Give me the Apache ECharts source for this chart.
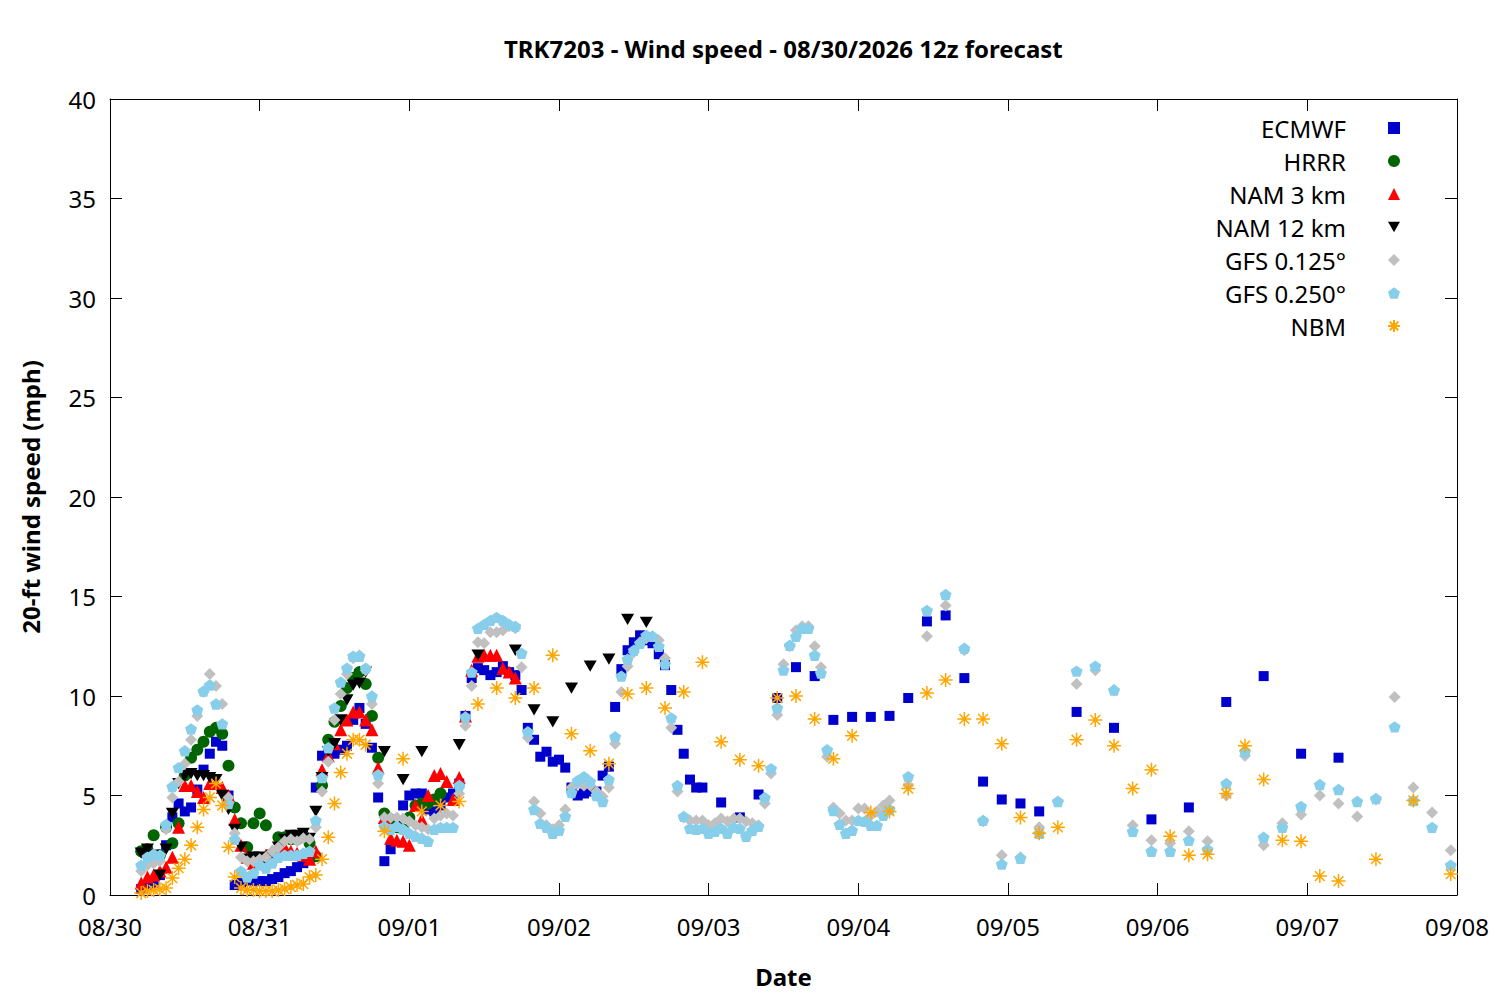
<!DOCTYPE html>
<html>
<head>
<meta charset="utf-8">
<title>TRK7203 - Wind speed</title>
<script src="https://cdn.jsdelivr.net/npm/echarts@6/dist/echarts.min.js"></script>
<style>
  html, body { margin: 0; padding: 0; background: #fff; }
  #main { width: 1500px; height: 1000px; }
</style>
</head>
<body>
<div id="main"></div>
<script>
// x = hours since 08/30 00:00 local, y = 20-ft wind speed (mph)
const dateLabels = ['08/30', '08/31', '09/01', '09/02', '09/03', '09/04', '09/05', '09/06', '09/07', '09/08'];

const ecmwf = [[5,0.3],[6,0.5],[7,0.6],[8,1.0],[9,2.5],[10,3.9],[11,4.6],[12,4.2],[13,4.4],[14,5.3],[15,6.3],[16,7.1],[17,7.7],[18,7.5],[19,5.0],[20,0.5],[21,0.6],[22,0.7],[23,0.7],[24,0.7],[25,0.7],[26,0.8],[27,0.9],[28,1.1],[29,1.2],[30,1.4],[31,1.6],[32,1.8],[33,5.4],[34,7.0],[35,7.1],[36,7.1],[37,7.3],[38,7.5],[39,8.8],[40,9.4],[41,8.6],[42,7.4],[43,4.9],[44,1.7],[45,2.3],[46,3.5],[47,4.5],[48,5.0],[49,5.1],[50,5.1],[51,4.3],[52,4.2],[53,4.5],[54,4.9],[55,5.1],[56,5.6],[57,9.0],[58,10.9],[59,11.4],[60,11.3],[61,11.05],[62,11.2],[63,11.5],[64,11.2],[65,11.05],[66,10.3],[67,8.4],[68,7.8],[69,6.95],[70,7.2],[71,6.7],[72,6.8],[73,6.4],[74,5.4],[75,5.0],[76,5.1],[77,5.2],[78,5.2],[79,6.0],[80,6.45],[81,9.45],[82,11.35],[83,12.3],[84,12.7],[85,13.05],[86,12.8],[87,12.65],[88,12.1],[89,11.55],[90,10.3],[91,8.3],[92,7.1],[93,5.8],[94,5.4],[95,5.4],[98,4.65],[101,3.9],[104,5.05],[107,9.9],[110,11.45],[113,11.0],[116,8.8],[119,8.95],[122,8.95],[125,9.0],[128,9.9],[131,13.75],[134,14.05],[137,10.9],[140,5.7],[143,4.8],[146,4.6],[149,4.2],[155,9.2],[161,8.4],[167,3.8],[173,4.4],[179,9.7],[185,11.0],[191,7.1],[197,6.9]];

const hrrr = [[5,2.2],[6,2.3],[7,3.0],[8,2.0],[9,3.4],[10,2.6],[11,3.6],[12,6.0],[13,6.9],[14,7.3],[15,7.7],[16,8.2],[17,8.4],[18,8.1],[19,6.5],[20,4.4],[21,3.6],[22,2.4],[23,3.6],[24,4.1],[25,3.5],[26,2.0],[27,2.9],[28,2.9],[29,2.8],[30,2.8],[31,3.0],[32,2.6],[33,1.95],[34,5.5],[35,7.8],[36,8.7],[37,9.5],[38,10.4],[39,10.9],[40,11.2],[41,10.6],[42,9.0],[43,6.9],[44,4.1],[45,3.8],[46,3.4],[47,3.3],[48,3.9],[49,4.5],[50,4.6],[51,4.6],[52,4.8],[53,5.1]];

const nam3 = [[5,0.6],[6,0.9],[7,1.0],[8,1.2],[9,1.4],[10,1.9],[11,3.4],[12,5.5],[13,5.5],[14,5.2],[15,4.9],[16,5.6],[17,5.6],[18,5.4],[19,5.0],[20,3.8],[21,2.5],[22,1.9],[23,1.6],[24,1.7],[25,2.0],[26,2.2],[27,2.3],[28,2.4],[29,2.2],[30,2.1],[31,2.0],[32,1.8],[33,2.2],[34,6.3],[35,7.0],[36,7.6],[37,8.3],[38,8.8],[39,9.2],[40,9.2],[41,8.8],[42,8.3],[43,6.4],[44,3.9],[45,2.85],[46,2.75],[47,2.7],[48,2.5],[49,4.5],[50,3.8],[51,5.0],[52,6.0],[53,6.1],[54,5.7],[55,4.8],[56,5.9],[57,9.0],[58,11.3],[59,12.0],[60,12.05],[61,12.05],[62,12.05],[63,11.4],[64,11.2],[65,10.9]];

const nam12 = [[5,2.1],[6,2.3],[7,2.0],[8,1.0],[9,2.3],[10,4.1],[11,5.6],[12,6.0],[13,6.1],[14,6.0],[15,6.0],[16,5.9],[17,5.8],[18,5.0],[19,4.3],[20,3.3],[21,2.4],[22,1.8],[23,1.9],[24,1.9],[25,1.5],[26,2.0],[27,2.4],[28,2.8],[29,3.0],[30,3.0],[31,3.1],[32,2.85],[33,4.2],[34,5.9],[35,7.2],[36,7.6],[37,8.8],[38,9.8],[39,10.55],[40,10.65],[41,11.2],[44,7.2],[47,5.8],[50,7.2],[56,7.55],[59,12.05],[65,12.3],[68,9.3],[71,8.7],[74,10.4],[77,11.5],[80,11.85],[83,13.85],[86,13.7]];

const gfs0125 = [[5,1.2],[6,1.5],[7,1.6],[8,1.7],[9,3.3],[10,4.9],[11,5.7],[12,6.6],[13,7.8],[14,9.0],[15,10.2],[16,11.1],[17,10.5],[18,9.6],[19,4.9],[20,3.1],[21,1.9],[22,1.7],[23,1.7],[24,1.8],[25,1.9],[26,2.2],[27,2.4],[28,2.7],[29,2.8],[30,2.7],[31,2.85],[32,2.8],[33,3.4],[34,5.2],[35,6.7],[36,8.8],[37,10.1],[38,11.1],[39,11.9],[40,12.05],[41,11.3],[42,9.6],[43,5.6],[44,3.9],[45,3.9],[46,3.9],[47,3.85],[48,3.7],[49,3.5],[50,3.4],[51,3.3],[52,3.85],[53,4.0],[54,4.1],[55,4.0],[56,5.1],[57,8.5],[58,10.5],[59,12.7],[60,12.65],[61,13.2],[62,13.2],[63,13.3],[64,13.5],[65,13.4],[66,11.45],[67,7.9],[68,4.7],[69,4.1],[70,3.5],[71,3.3],[72,3.5],[73,4.3],[74,5.4],[75,5.6],[76,5.5],[77,5.5],[78,5.2],[79,4.95],[80,5.4],[81,7.6],[82,10.2],[83,11.5],[84,12.2],[85,12.7],[86,12.9],[87,13.0],[88,12.8],[89,11.9],[90,8.4],[91,5.2],[92,3.9],[93,3.75],[94,3.75],[95,3.75],[96,3.5],[97,3.6],[98,3.85],[99,3.7],[100,3.85],[101,3.85],[102,3.7],[103,3.6],[104,3.5],[105,4.6],[106,6.1],[107,9.05],[108,11.6],[109,12.5],[110,13.3],[111,13.5],[112,13.5],[113,12.5],[114,11.45],[115,6.95],[116,4.4],[117,4.1],[118,3.75],[119,3.75],[120,4.35],[121,4.35],[122,4.0],[123,4.2],[124,4.5],[125,4.75],[128,5.5],[131,13.0],[134,14.55],[137,12.3],[140,3.7],[143,2.0],[146,1.9],[149,3.4],[152,4.7],[155,10.6],[158,11.3],[161,10.3],[164,3.5],[167,2.75],[170,2.6],[173,3.2],[176,2.7],[179,5.0],[182,7.0],[185,2.5],[188,3.6],[191,4.05],[194,5.0],[197,4.6],[200,3.95],[203,4.8],[206,9.95],[209,5.4],[212,4.15],[215,2.25]];

const gfs0250 = [[5,1.5],[6,1.9],[7,2.05],[8,2.0],[9,3.55],[10,5.45],[11,6.4],[12,7.25],[13,8.35],[14,9.3],[15,10.25],[16,10.55],[17,9.6],[18,8.6],[19,4.6],[20,2.8],[21,1.2],[22,0.9],[23,1.1],[24,1.5],[25,1.35],[26,1.6],[27,1.9],[28,2.0],[29,2.0],[30,2.0],[31,2.1],[32,2.2],[33,3.75],[34,5.9],[35,7.4],[36,9.4],[37,10.7],[38,11.4],[39,12.0],[40,12.0],[41,11.4],[42,10.0],[43,6.05],[44,3.45],[45,3.3],[46,3.45],[47,3.3],[48,3.1],[49,2.95],[50,2.85],[51,2.7],[52,3.3],[53,3.4],[54,3.4],[55,3.4],[56,5.5],[57,8.95],[58,11.2],[59,13.4],[60,13.6],[61,13.8],[62,13.95],[63,13.8],[64,13.6],[65,13.5],[66,12.15],[67,8.2],[68,4.3],[69,3.6],[70,3.4],[71,3.1],[72,3.25],[73,3.95],[74,5.15],[75,5.75],[76,5.95],[77,5.7],[78,5.0],[79,4.7],[80,5.8],[81,7.95],[82,11.0],[83,11.85],[84,12.3],[85,12.65],[86,13.05],[87,13.0],[88,12.5],[89,11.6],[90,8.9],[91,5.5],[92,3.95],[93,3.35],[94,3.3],[95,3.35],[96,3.1],[97,3.2],[98,3.35],[99,3.1],[100,3.4],[101,3.35],[102,2.95],[103,3.25],[104,3.45],[105,4.9],[106,6.35],[107,9.4],[108,11.3],[109,12.55],[110,13.0],[111,13.4],[112,13.4],[113,12.05],[114,11.15],[115,7.3],[116,4.25],[117,3.55],[118,3.1],[119,3.25],[120,3.75],[121,3.7],[122,3.5],[123,3.5],[124,4.0],[125,4.3],[128,5.95],[131,14.3],[134,15.1],[137,12.4],[140,3.75],[143,1.55],[146,1.85],[149,3.1],[152,4.7],[155,11.25],[158,11.5],[161,10.3],[164,3.2],[167,2.2],[170,2.2],[173,2.75],[176,2.3],[179,5.6],[182,7.2],[185,2.9],[188,3.4],[191,4.45],[194,5.55],[197,5.3],[200,4.7],[203,4.85],[206,8.45],[209,4.75],[212,3.4],[215,1.5]];

const nbm = [[5,0.1],[6,0.2],[7,0.25],[8,0.3],[9,0.35],[10,0.85],[11,1.35],[12,1.8],[13,2.5],[14,3.4],[15,4.3],[16,4.9],[17,5.6],[18,4.5],[19,2.4],[20,0.9],[21,0.35],[22,0.25],[23,0.25],[24,0.2],[25,0.2],[26,0.2],[27,0.25],[28,0.3],[29,0.4],[30,0.5],[31,0.55],[32,0.9],[33,1.0],[34,1.8],[35,2.9],[36,4.6],[37,6.15],[38,7.1],[39,7.8],[40,7.8],[41,7.55],[44,3.2],[47,6.85],[50,4.2],[53,4.5],[56,4.7],[59,9.6],[62,10.4],[65,9.9],[68,10.4],[71,12.05],[74,8.1],[77,7.25],[80,6.6],[83,10.1],[86,10.4],[89,9.4],[92,10.2],[95,11.7],[98,7.7],[101,6.8],[104,6.5],[107,9.9],[110,10.0],[113,8.85],[116,6.85],[119,8.0],[122,4.15],[125,4.2],[128,5.35],[131,10.15],[134,10.8],[137,8.85],[140,8.85],[143,7.6],[146,3.9],[149,3.1],[152,3.4],[155,7.8],[158,8.8],[161,7.5],[164,5.35],[167,6.3],[170,2.95],[173,2.0],[176,2.05],[179,5.1],[182,7.5],[185,5.8],[188,2.75],[191,2.7],[194,0.95],[197,0.7],[203,1.8],[209,4.75],[215,1.05]];

const FONT = 'Noto Sans';
const PENTAGON = 'path://M0,-1L0.951,-0.309L0.588,0.809L-0.588,0.809L-0.951,-0.309Z';
const ASTERISK = 'path://M0,-1L0,1M-1,0L1,0M-0.7,-0.7L0.7,0.7M-0.7,0.7L0.7,-0.7';
const DOWN_TRIANGLE = 'path://M-1,-0.87L1,-0.87L0,0.87Z';

function dots(name, data, symbol, size, color, extra) {
    return Object.assign({
        name: name,
        type: 'scatter',
        data: data,
        symbol: symbol,
        symbolSize: size,
        symbolKeepAspect: true,
        itemStyle: { color: color, opacity: 1 },
        emphasis: { disabled: true },
        xAxisIndex: 0,
        yAxisIndex: 0
    }, extra || {});
}

const xCommon = {
    type: 'value',
    min: 0,
    max: 216,
    interval: 24,
    splitLine: { show: false },
    axisLine: { show: true, onZero: false, lineStyle: { color: '#000', width: 1 } },
    axisTick: { show: true, inside: true, length: 12, lineStyle: { color: '#000', width: 1 } }
};
const yCommon = {
    type: 'value',
    min: 0,
    max: 40,
    interval: 5,
    splitLine: { show: false },
    axisLine: { show: true, onZero: false, lineStyle: { color: '#000', width: 1 } },
    axisTick: { show: true, inside: true, length: 12, lineStyle: { color: '#000', width: 1 } }
};

const chart = echarts.init(document.getElementById('main'), null, { renderer: 'svg' });
chart.setOption({
    animation: false,
    backgroundColor: '#fff',
    textStyle: { fontFamily: FONT },
    title: {
        text: 'TRK7203 - Wind speed - 08/30/2026 12z forecast',
        left: 504,
        top: 36,
        padding: 0,
        textStyle: { fontFamily: FONT, fontSize: 24, fontWeight: 'bold', color: '#000' }
    },
    legend: {
        orient: 'vertical',
        right: 99,
        top: 116,
        padding: 0,
        align: 'right',
        itemWidth: 12,
        itemHeight: 12,
        itemGap: 9,
        selectedMode: false,
        textStyle: { fontFamily: FONT, fontSize: 24, lineHeight: 24, color: '#000', padding: [0, 37, 0, 0] },
        data: ['ECMWF', 'HRRR', 'NAM 3 km', 'NAM 12 km', 'GFS 0.125°', 'GFS 0.250°', 'NBM']
    },
    grid: { left: 110, right: 43, top: 99, bottom: 105 },
    xAxis: [
        Object.assign({}, xCommon, {
            position: 'bottom',
            name: 'Date',
            nameLocation: 'middle',
            nameGap: 69,
            nameTextStyle: { fontFamily: FONT, fontSize: 24, fontWeight: 'bold', color: '#000' },
            axisLabel: {
                margin: 19,
                fontFamily: FONT,
                fontSize: 24,
                color: '#000',
                formatter: function (v) { return dateLabels[Math.round(v / 24)]; }
            }
        }),
        Object.assign({}, xCommon, { position: 'top', axisLabel: { show: false } })
    ],
    yAxis: [
        Object.assign({}, yCommon, {
            position: 'left',
            name: '20-ft wind speed (mph)',
            nameLocation: 'middle',
            nameGap: 68,
            nameTextStyle: { fontFamily: FONT, fontSize: 24, fontWeight: 'bold', color: '#000' },
            axisLabel: { margin: 14, fontFamily: FONT, fontSize: 24, color: '#000' }
        }),
        Object.assign({}, yCommon, { position: 'right', axisLabel: { show: false } })
    ],
    series: [
        dots('ECMWF', ecmwf, 'rect', 10, '#0000cd'),
        dots('HRRR', hrrr, 'circle', 12, '#006400'),
        dots('NAM 3 km', nam3, 'triangle', 13, '#ff0000'),
        dots('NAM 12 km', nam12, DOWN_TRIANGLE, 13, '#000000'),
        dots('GFS 0.125°', gfs0125, 'diamond', 12, '#c0c0c0'),
        dots('GFS 0.250°', gfs0250, PENTAGON, 12, '#87ceeb'),
        dots('NBM', nbm, ASTERISK, 14, 'rgba(0,0,0,0)', {
            itemStyle: { color: 'rgba(0,0,0,0)', borderColor: '#ffa500', borderWidth: 1.5, opacity: 1 }
        })
    ]
});
</script>
</body>
</html>
